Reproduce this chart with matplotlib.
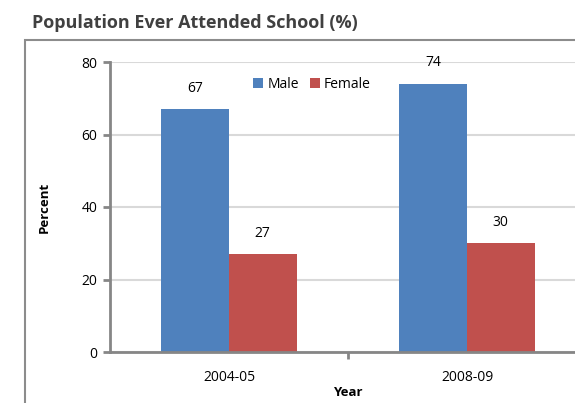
import matplotlib

matplotlib.use("Agg")
import matplotlib.pyplot as plt
from matplotlib.patches import Rectangle
import numpy as np

YEARS = ["2004-05", "2008-09"]
MALE = [67, 74]
FEMALE = [27, 30]
SERIES = ["Male", "Female"]

COLOR_MALE = "#4F81BD"
COLOR_FEMALE = "#C0504D"
AXIS_GRAY = "#868686"
GRID_GRAY = "#D9D9D9"
TEXT = "#000000"

plt.rcParams["font.family"] = ["Open Sans", "DejaVu Sans"]

W, H = 575, 403
fig = plt.figure(figsize=(W / 100, H / 100), dpi=100)

# outer chart frame (runs off the right and bottom edges)
fig.patches.append(
    Rectangle((25 / W, -0.1), 1.2, (H - 40) / H + 0.1, transform=fig.transFigure,
              fill=False, edgecolor="#8C8C8C", linewidth=1.5)
)
fig.text(32 / W, 1 - 23 / H, "Population Ever Attended School (%)", fontsize=13,
         fontweight="bold", color="#404040", va="center", ha="left")

ax = fig.add_axes([110 / W, 51 / H, 476 / W, 290 / H])
ax.set_clip_on(False)

x = np.arange(len(YEARS))
width = 0.284
bars_m = ax.bar(x - width / 2, MALE, width, color=COLOR_MALE, label=SERIES[0], zorder=3)
bars_f = ax.bar(x + width / 2, FEMALE, width, color=COLOR_FEMALE, label=SERIES[1], zorder=3)
for bars, vals in ((bars_m, MALE), (bars_f, FEMALE)):
    for b, v in zip(bars, vals):
        ax.annotate(str(v), (b.get_x() + b.get_width() / 2, v), textcoords="offset points",
                    xytext=(0, 15), ha="center", va="center", fontsize=10, color=TEXT)

ax.set_xlim(-0.5, 1.5)
ax.set_ylim(0, 80)
ax.set_yticks([0, 20, 40, 60, 80])
ax.set_xticks([0.5])
ax.set_xticklabels([""])
ax.set_xticks(x, minor=True)
ax.set_xticklabels(YEARS, minor=True)
ax.tick_params(axis="x", which="minor", length=0, pad=13, labelsize=10)
ax.tick_params(axis="x", which="major", direction="out", length=5, width=2, color=AXIS_GRAY)
ax.tick_params(axis="y", direction="out", length=5, width=2, color=AXIS_GRAY,
               labelsize=10, pad=4)
ax.grid(axis="y", color=GRID_GRAY, linewidth=1.5, zorder=0)
for side in ("top", "right"):
    ax.spines[side].set_visible(False)
for side in ("left", "bottom"):
    ax.spines[side].set_color(AXIS_GRAY)
    ax.spines[side].set_linewidth(2)
    ax.spines[side].set_zorder(4)

ax.set_xlabel("Year", fontsize=9.5, fontweight="bold", labelpad=0, va="center")
ax.set_ylabel("Percent", fontsize=9.5, fontweight="bold", labelpad=22)
ax.xaxis.set_label_coords(238 / 476, -41 / 290)

ax.legend(loc="center", bbox_to_anchor=(312 / W, 1 - 84 / H), bbox_transform=fig.transFigure,
          ncol=2, frameon=False, fontsize=10, handlelength=0.7, handleheight=0.7,
          handletextpad=0.3, columnspacing=0.8, borderpad=0)

fig.savefig("out.png", dpi=100)
